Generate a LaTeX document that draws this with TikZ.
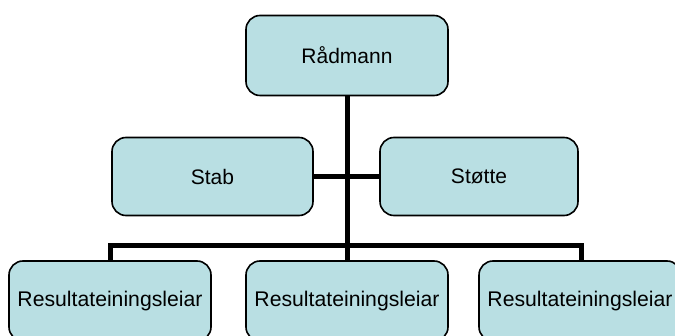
\documentclass[tikz,border=0pt]{standalone}
\usepackage{fontspec}
\setmainfont{Liberation Sans}
\definecolor{boxfill}{HTML}{B9DFE3}
\begin{document}
\begin{tikzpicture}[x=1pt,y=-1pt,
  orgbox/.style={draw=black, line width=1.6pt, fill=boxfill, rounded corners=14pt,
    minimum width=202pt, minimum height=80pt, inner sep=0pt,
    font=\fontsize{21}{25}\selectfont},
  unitbox/.style={orgbox, font=\fontsize{21.2}{25}\selectfont},
  conn/.style={draw=black, line width=5pt, line join=miter}]
\useasboundingbox (0,0) rectangle (675,336);
% coordinates of the junctions, so the connectors can be drawn under the boxes
\coordinate (top) at (347,55.5);
\coordinate (mid) at (347,176.5);
\coordinate (bus) at (347,246);
\coordinate (ltop) at (110,262);
\coordinate (mtop) at (347,262);
\coordinate (rtop) at (581,262);
% connectors
\draw[conn] (top) -- (mtop);
\draw[conn] (ltop) |- (bus) -| (rtop);
\draw[conn] (212.5,176.5) coordinate (stabc) -- (479,176.5) coordinate (stottec);
% boxes
\node[orgbox] (r) at (top) {Rådmann};
\node[orgbox, minimum width=201pt, minimum height=78pt] (stab) at (stabc) {Stab};
\node[orgbox, minimum width=198pt, minimum height=78pt] (stotte) at (stottec) {Støtte};
\node[unitbox] (l) at (110,301) {Resultateiningsleiar};
\node[unitbox] (m) at (347,301) {Resultateiningsleiar};
\node[unitbox] (rr) at (580,301) {Resultateiningsleiar};
\end{tikzpicture}
\end{document}
